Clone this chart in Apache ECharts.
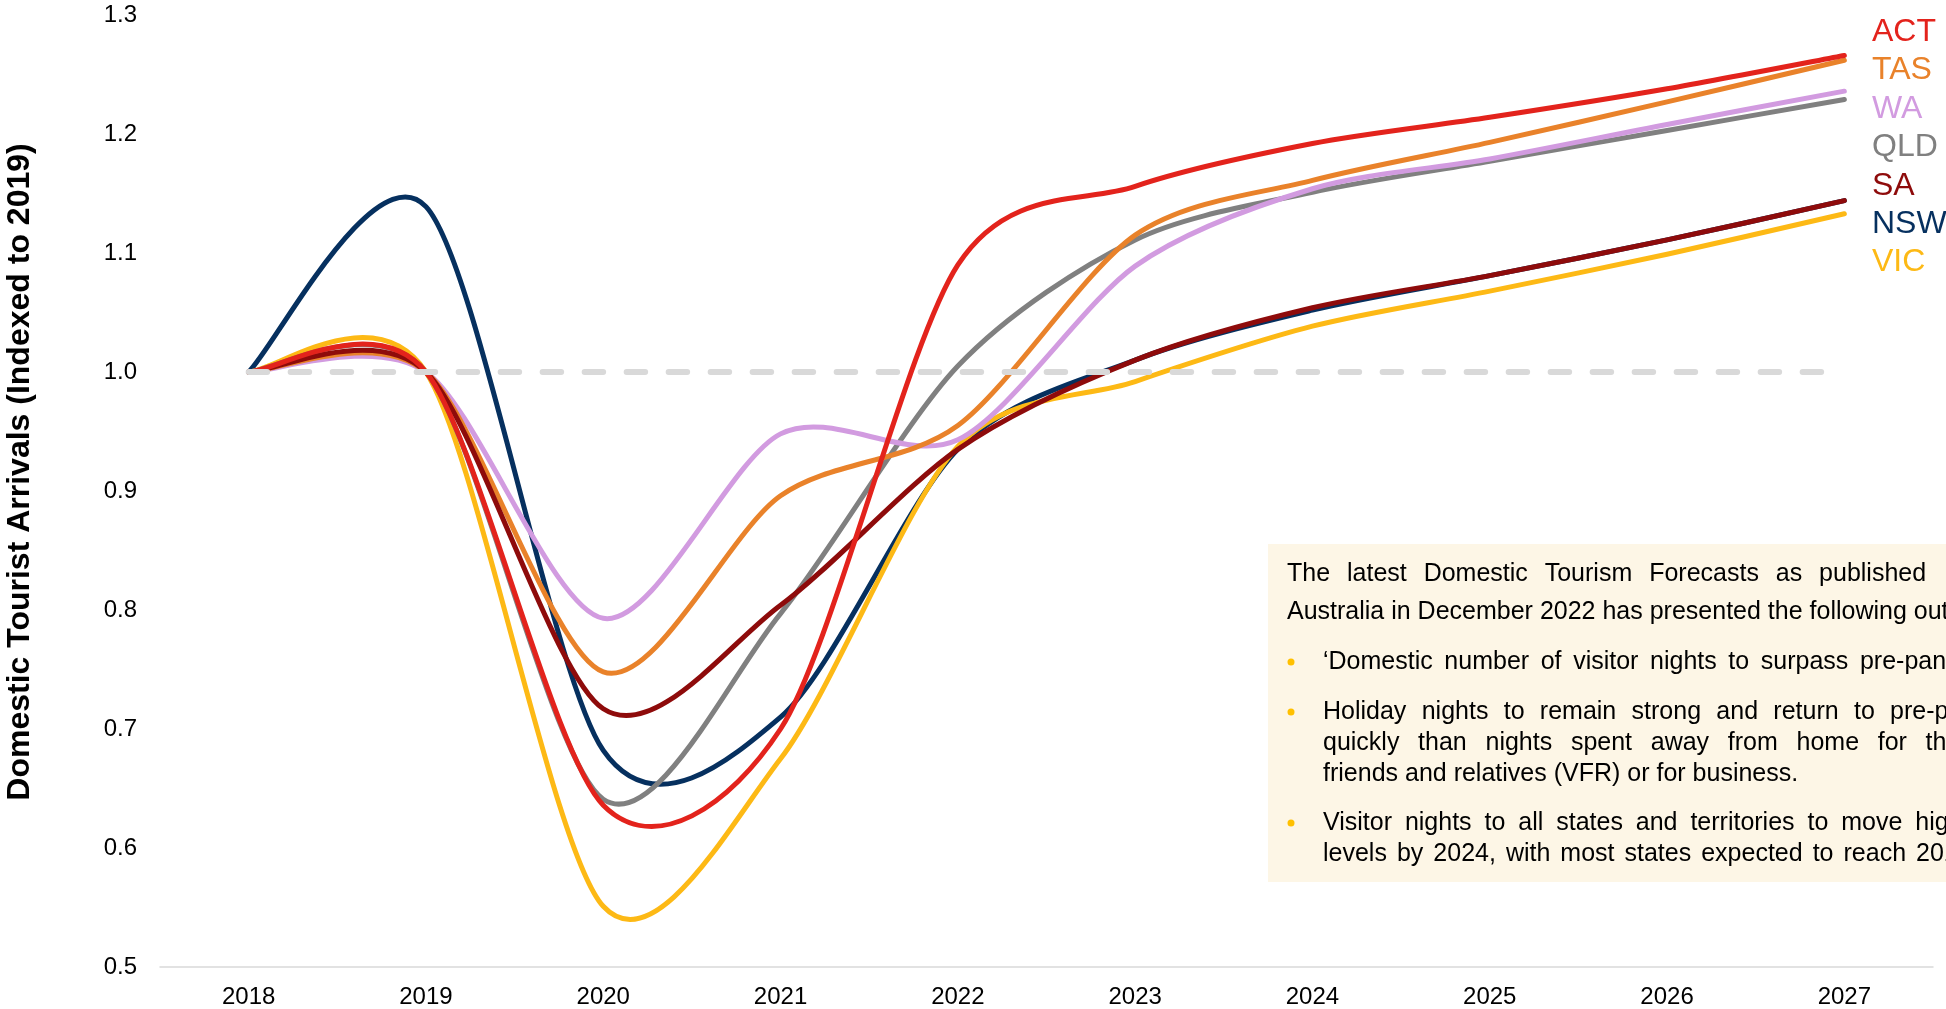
<!DOCTYPE html>
<html>
<head>
<meta charset="utf-8">
<script src="https://cdn.jsdelivr.net/npm/echarts@6.0.0/dist/echarts.min.js"></script>
<style>
html,body{margin:0;padding:0;background:#ffffff;}
#chart{width:1946px;height:1009px;}
</style>
</head>
<body>
<div id="chart"></div>
<script>
// ---------------- DATA ----------------
const years = ['2018','2019','2020','2021','2022','2023','2024','2025','2026','2027'];
const ACT = [1.000, 1.000, 0.636, 0.700, 1.090, 1.156, 1.192, 1.214, 1.238, 1.266];
const TAS = [1.000, 1.000, 0.748, 0.896, 0.955, 1.115, 1.161, 1.193, 1.227, 1.262];
const WA  = [1.000, 1.000, 0.793, 0.948, 0.943, 1.089, 1.154, 1.179, 1.208, 1.236];
const QLD = [1.000, 1.000, 0.641, 0.797, 1.005, 1.111, 1.151, 1.177, 1.203, 1.229];
const SA  = [1.000, 1.000, 0.717, 0.804, 0.935, 1.010, 1.054, 1.081, 1.111, 1.144];
const NSW = [1.000, 1.139, 0.682, 0.710, 0.935, 1.010, 1.052, 1.081, 1.111, 1.144];
const VIC = [1.000, 1.000, 0.551, 0.675, 0.9375, 0.992, 1.0385, 1.068, 1.099, 1.133];
const baseline = [1.0, 1.0, 1.0, 1.0, 1.0, 1.0, 1.0, 1.0, 1.0, 1.0];
const legendOrder = ['ACT','TAS','WA','QLD','SA','NSW','VIC'];
const yAxisTitle = 'Domestic Tourist Arrivals (Indexed to 2019)';

const introLine1 = ['The','latest','Domestic','Tourism','Forecasts','as','published'];
const introLine2 = 'Australia in December 2022 has presented the following outcomes:';
const bullet1L1 = ['\u2018Domestic','number','of','visitor','nights','to','surpass','pre-pandemic','levels'];
const bullet2L1 = ['Holiday','nights','to','remain','strong','and','return','to','pre-pandemic','levels'];
const bullet2L2 = ['quickly','than','nights','spent','away','from','home','for','the','purpose','of','visiting'];
const bullet2L3 = 'friends and relatives (VFR) or for business.';
const bullet3L1 = ['Visitor','nights','to','all','states','and','territories','to','move','higher','than','pre-pandemic'];
const bullet3L2 = ['levels','by','2024,','with','most','states','expected','to','reach','2019','levels','by','2025.'];

// ---------------- STYLE ----------------
const FONT = '"Liberation Sans", Arial, Helvetica, sans-serif';
const colors = {
  ACT: '#E3231C', TAS: '#E9822A', WA: '#D29BE0', QLD: '#808080',
  SA: '#8E0B0B', NSW: '#06305F', VIC: '#FDB915'
};
const seriesValues = { ACT, TAS, WA, QLD, SA, NSW, VIC };
const drawOrder = ['NSW','VIC','QLD','WA','TAS','SA','ACT'];
const TENSION = 0.145;

function smoothPath(pts) {
  let d = 'M' + pts[0][0] + ' ' + pts[0][1];
  for (let i = 0; i < pts.length - 1; i++) {
    const p0 = pts[Math.max(i - 1, 0)], p1 = pts[i], p2 = pts[i + 1], p3 = pts[Math.min(i + 2, pts.length - 1)];
    const c1x = p1[0] + (p2[0] - p0[0]) * TENSION, c1y = p1[1] + (p2[1] - p0[1]) * TENSION;
    const c2x = p2[0] - (p3[0] - p1[0]) * TENSION, c2y = p2[1] - (p3[1] - p1[1]) * TENSION;
    d += ' C' + c1x + ' ' + c1y + ' ' + c2x + ' ' + c2y + ' ' + p2[0] + ' ' + p2[1];
  }
  return d;
}

function makeSeries(name) {
  const vals = seriesValues[name];
  return {
    name: name,
    type: 'custom',
    coordinateSystem: 'cartesian2d',
    silent: true,
    z: 2,
    itemStyle: { color: colors[name] },
    encode: { x: 0, y: 1 },
    data: vals.map((v, i) => [i, v]),
    renderItem: function (params, api) {
      if (params.dataIndex !== 0) return null;
      const pts = vals.map((v, i) => api.coord([i, v]));
      return {
        type: 'path',
        shape: { pathData: smoothPath(pts) },
        style: { stroke: colors[name], lineWidth: 5, fill: null, lineCap: 'round', lineJoin: 'round' }
      };
    }
  };
}

// text measuring for justified lines
const mctx = document.createElement('canvas').getContext('2d');
const BOX_FONT = '25px ' + FONT;
mctx.font = BOX_FONT;
function textEl(str, x, y) {
  return {
    type: 'text', x: x, y: y, silent: true,
    style: { text: str, font: BOX_FONT, fill: '#000000', textAlign: 'left', textVerticalAlign: 'middle' }
  };
}
function justified(words, x0, y, gap) {
  const els = [];
  let x = x0;
  words.forEach(w => {
    els.push(textEl(w, x, y));
    x += mctx.measureText(w).width + gap;
  });
  return els;
}
function bullet(y) {
  return { type: 'circle', silent: true, shape: { cx: 1291, cy: y, r: 3.5 }, style: { fill: '#FFC000' } };
}

const graphics = [
  { type: 'rect', shape: { x: 1268, y: 544, width: 700, height: 338 }, style: { fill: '#FDF6E6' }, z: 0, silent: true },
  ...justified(introLine1, 1287, 574, 16.9),
  textEl(introLine2, 1287, 612),
  bullet(662),
  ...justified(bullet1L1, 1323, 662, 11.6),
  bullet(712),
  ...justified(bullet2L1, 1323, 712, 15.3),
  ...justified(bullet2L2, 1323, 743, 18.7),
  textEl(bullet2L3, 1323, 774),
  bullet(823),
  ...justified(bullet3L1, 1323, 823, 12.9),
  ...justified(bullet3L2, 1323, 854, 10.0),
  { type: 'text', x: 20, y: 472, rotation: Math.PI / 2, silent: true,
    style: { text: yAxisTitle, font: 'bold 32px ' + FONT, fill: '#000000', textAlign: 'center', textVerticalAlign: 'middle' } }
];

const chart = echarts.init(document.getElementById('chart'), null, { renderer: 'canvas' });
chart.setOption({
  backgroundColor: '#ffffff',
  animation: false,
  grid: { left: 160, right: 13, top: 15, bottom: 41, containLabel: false },
  legend: {
    orient: 'vertical', left: 1867, top: 13, itemGap: 0, itemWidth: 0, itemHeight: 0,
    icon: 'rect', selectedMode: false, padding: 0,
    textStyle: { fontSize: 32, fontFamily: FONT, lineHeight: 38.4 },
    data: legendOrder.map(n => ({ name: n, textStyle: { color: colors[n] } }))
  },
  xAxis: {
    type: 'category', data: years, boundaryGap: true,
    axisLine: { show: true, lineStyle: { color: '#D9D9D9', width: 1.5 } },
    axisTick: { show: false },
    axisLabel: { fontSize: 24, fontFamily: FONT, color: '#000000', margin: 18 },
    splitLine: { show: false }
  },
  yAxis: {
    type: 'value', min: 0.5, max: 1.3, interval: 0.1,
    axisLine: { show: false }, axisTick: { show: false }, splitLine: { show: false },
    axisLabel: { fontSize: 24, fontFamily: FONT, color: '#000000', margin: 23, formatter: v => v.toFixed(1) }
  },
  graphic: { elements: graphics },
  series: [
    ...drawOrder.map(makeSeries),
    {
      name: 'baseline', type: 'line', data: baseline, z: 5, silent: true,
      showSymbol: false, symbol: 'none',
      lineStyle: { color: '#D9D9D9', width: 6, type: [18.5, 23.5], cap: 'round' }
    }
  ]
});
</script>
</body>
</html>
